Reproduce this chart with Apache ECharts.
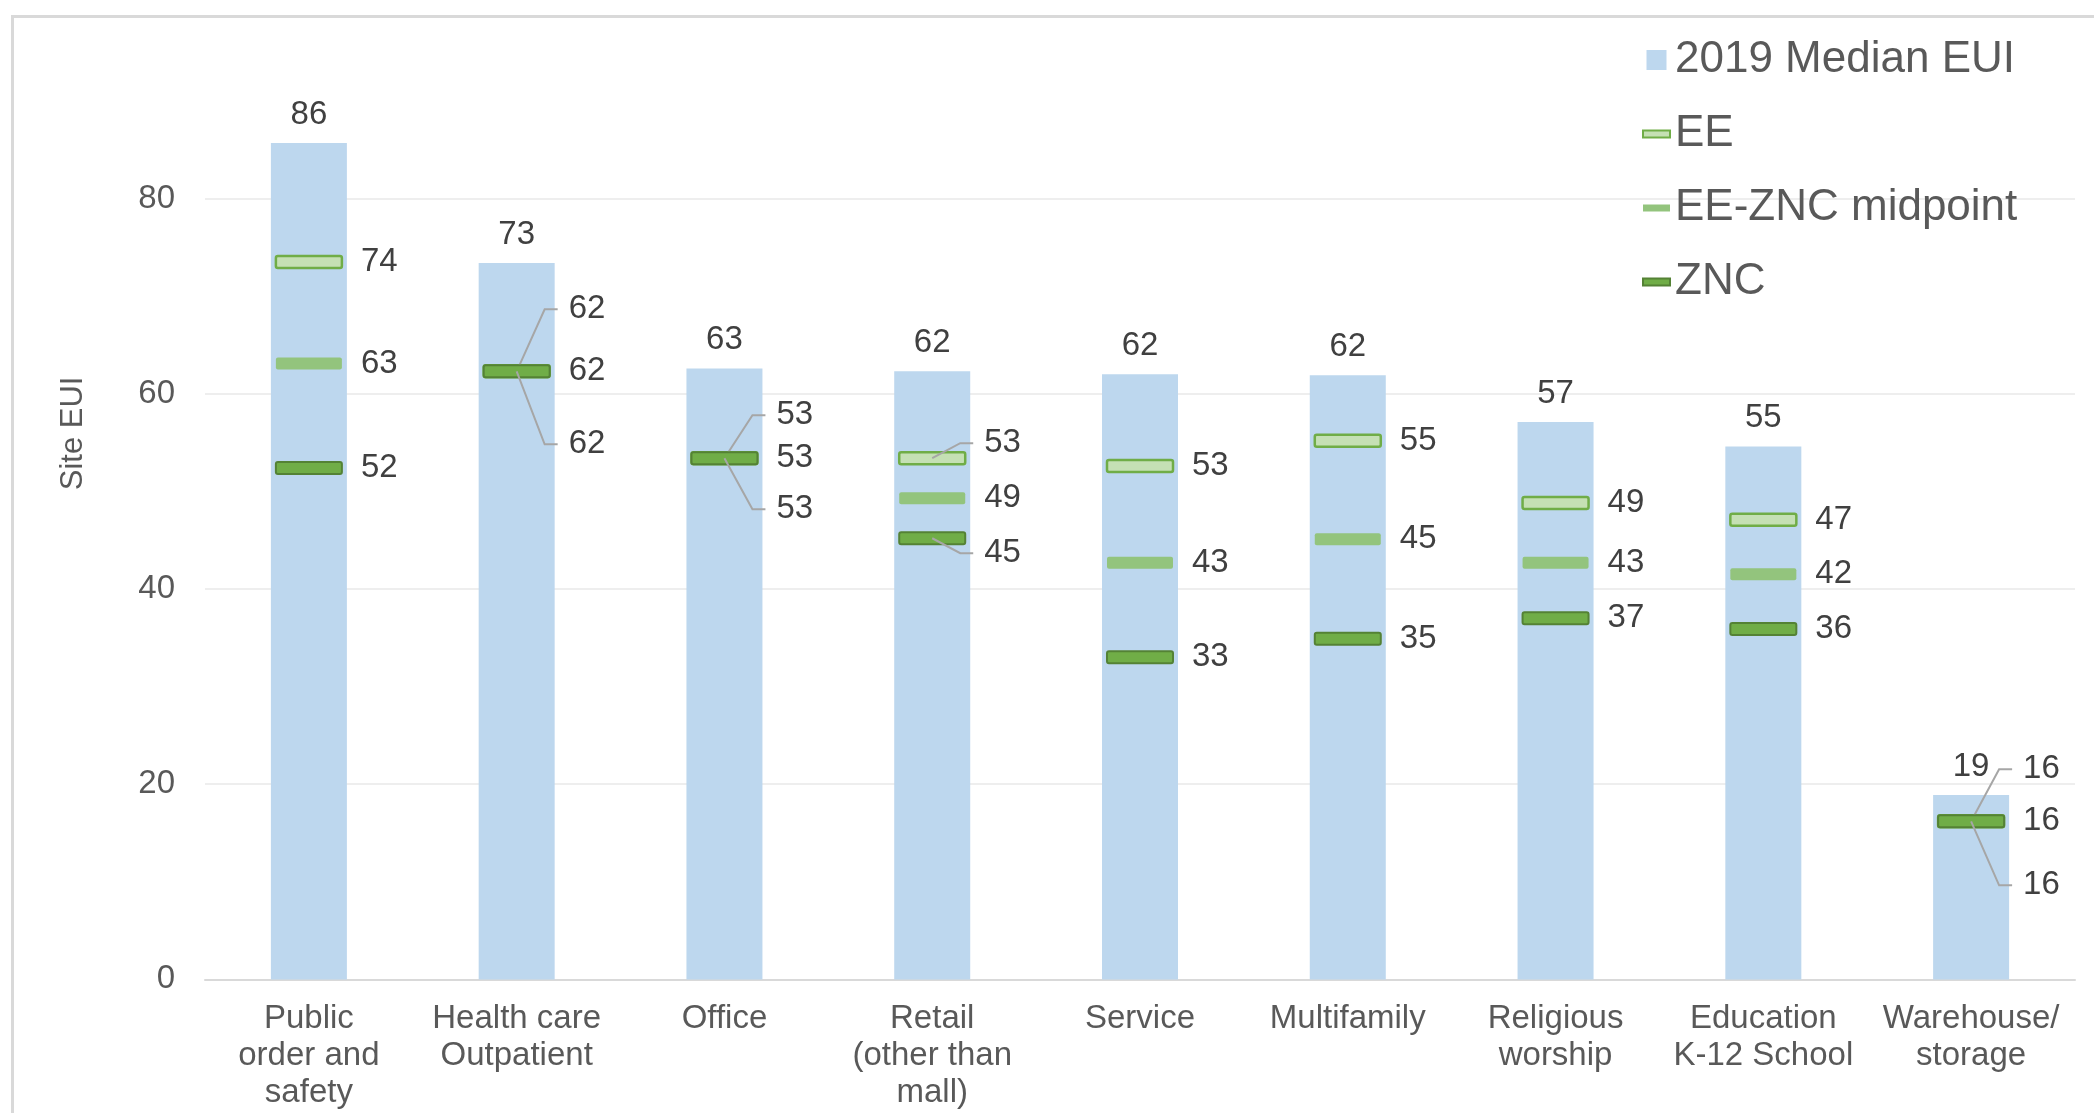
<!DOCTYPE html>
<html>
<head>
<meta charset="utf-8">
<script src="https://cdn.jsdelivr.net/npm/echarts@6/dist/echarts.min.js"></script>
<style>
  html, body { margin: 0; padding: 0; background: #fff; overflow: hidden; }
  #chart { position: absolute; left: 0; top: 0; width: 2094px; height: 1113px; }
  #frame { position: absolute; left: 11px; top: 15px; width: 2200px; height: 1200px;
           border-top: 3px solid #d9d9d9; border-left: 3px solid #d9d9d9; pointer-events: none; }
</style>
</head>
<body>
<div id="chart"></div>
<div id="frame"></div>
<script>
// building types on the x axis
var categories = ['Public\norder and\nsafety', 'Health care\nOutpatient', 'Office', 'Retail\n(other than\nmall)',
  'Service', 'Multifamily', 'Religious\nworship', 'Education\nK-12 School', 'Warehouse/\nstorage'];
// site EUI values
var medianEui = [85.7, 73.4, 62.6, 62.3, 62.0, 61.9, 57.1, 54.6, 18.9];
var eeEui = [73.5, 62.3, 53.4, 53.4, 52.6, 55.2, 48.8, 47.1, 16.2];
var midEui = [63.1, 62.3, 53.4, 49.3, 42.7, 45.1, 42.7, 41.5, 16.2];
var zncEui = [52.4, 62.3, 53.4, 45.2, 33.0, 34.9, 37.0, 35.9, 16.2];
var yTicks = [0, 20, 40, 60, 80];

// label offsets (px) where labels were dragged apart, like in the original
var eeShift = [0, -62, -43, -15, 0, 0, 0, 0, -52];
var midShift = [0, 0, 0, 0, 0, 0, 0, 0, 0];
var zncShift = [0, 73, 51, 15, 0, 0, 0, 0, 64];

var FONT = '"Liberation Sans", Arial, sans-serif';

function markerSeries(name, values, shifts, fill, stroke, lw) {
  return {
    name: name,
    type: 'custom',
    z: 5,
    itemStyle: { color: fill, borderColor: stroke || fill, borderWidth: lw },
    data: values.map(function (v, i) { return [i, v]; }),
    renderItem: function (params, api) {
      var p = api.coord([api.value(0), api.value(1)]);
      var dy = shifts[params.dataIndex];
      var ly = p[1] + dy;
      var kids = [{
        type: 'rect',
        shape: { x: p[0] - 33, y: p[1] - 6, width: 66, height: 12, r: 2 },
        style: { fill: fill, stroke: stroke || null, lineWidth: lw }
      }];
      if (dy) {
        kids.push({
          type: 'polyline',
          shape: { points: [[p[0], p[1]], [p[0] + 28, ly], [p[0] + 41, ly]] },
          style: { stroke: '#a6a6a6', lineWidth: 2, fill: null }
        });
      }
      kids.push({
        type: 'text',
        style: {
          text: String(Math.round(api.value(1))),
          x: p[0] + 52, y: ly, align: 'left', verticalAlign: 'middle',
          fill: '#404040', fontSize: 33, fontFamily: FONT
        }
      });
      return { type: 'group', children: kids };
    }
  };
}

var chart = echarts.init(document.getElementById('chart'));
var option = {
  animation: false,
  backgroundColor: '#ffffff',
  textStyle: { fontFamily: FONT },
  grid: { left: 205, right: 19, top: 3.4, bottom: 133.6, containLabel: false },
  legend: {
    orient: 'vertical',
    left: 1637,
    top: 33,
    itemWidth: 27,
    itemHeight: 20,
    itemGap: 30,
    textStyle: { fontSize: 44, color: '#595959', fontFamily: FONT, lineHeight: 44 },
    data: [
      { name: '2019 Median EUI', icon: 'path://M0,0H10V10H0Z' },
      { name: 'EE', icon: 'path://M0,0H27V7H0Z' },
      { name: 'EE-ZNC midpoint', icon: 'path://M0,0H27V7H0Z' },
      { name: 'ZNC', icon: 'path://M0,0H27V7H0Z' }
    ]
  },
  xAxis: {
    type: 'category',
    data: categories,
    axisLine: { lineStyle: { color: '#d9d9d9', width: 2 } },
    axisTick: { show: false },
    axisLabel: { interval: 0, fontSize: 33, lineHeight: 37, color: '#595959', margin: 21, fontFamily: FONT }
  },
  yAxis: {
    type: 'value',
    min: 0,
    max: 100,
    interval: 20,
    name: 'Site EUI',
    nameLocation: 'middle',
    nameGap: 116,
    nameRotate: 90,
    nameTextStyle: { fontSize: 31, color: '#595959', fontFamily: FONT, padding: [0, 0, 0, 116] },
    axisLine: { show: false },
    axisTick: { show: false },
    axisLabel: { fontSize: 33, color: '#595959', margin: 30, showMaxLabel: false, fontFamily: FONT,
      formatter: function (v) { return yTicks.indexOf(v) >= 0 ? String(v) : ''; } },
    splitLine: { showMaxLine: false, lineStyle: { color: '#eeeeee', width: 2 } }
  },
  series: [
    {
      name: '2019 Median EUI',
      type: 'bar',
      barWidth: 76,
      itemStyle: { color: '#bdd7ee' },
      label: {
        show: true, position: 'top', distance: 12, fontSize: 33, color: '#404040', fontFamily: FONT,
        formatter: function (p) { return Math.round(p.value); }
      },
      data: medianEui
    },
    markerSeries('EE', eeEui, eeShift, '#c5e0b4', '#70ad47', 2.5),
    markerSeries('EE-ZNC midpoint', midEui, midShift, '#93c47d', null, 0),
    markerSeries('ZNC', zncEui, zncShift, '#70ad47', '#548235', 2)
  ]
};
chart.setOption(option);
</script>
</body>
</html>
